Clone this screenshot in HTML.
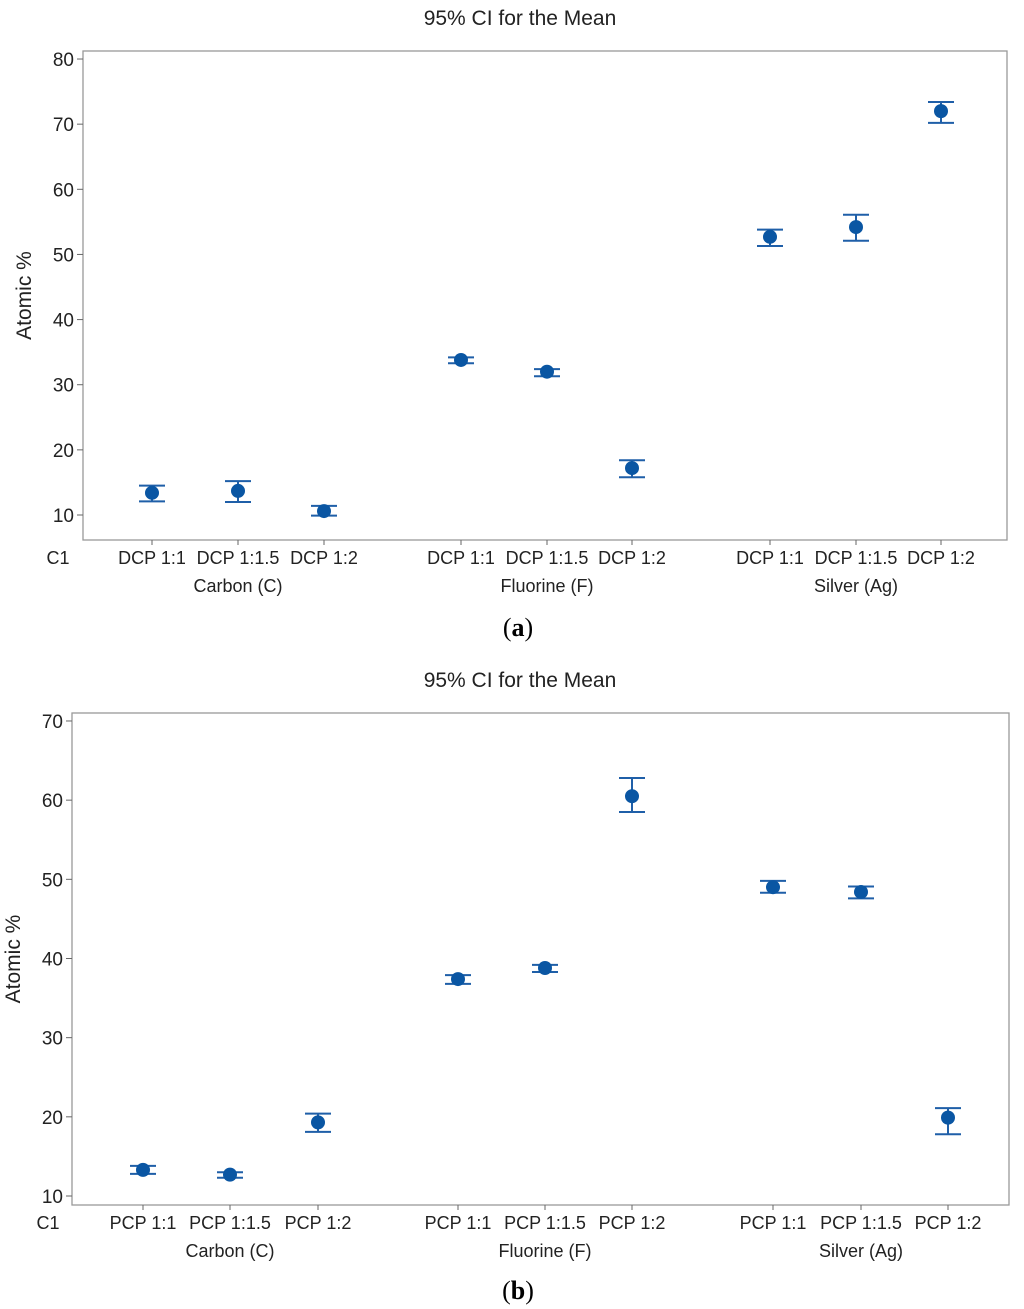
<!DOCTYPE html>
<html><head><meta charset="utf-8"><style>
body{margin:0;background:#fff;}
svg{display:block;font-family:"Liberation Sans",sans-serif;}
</style></head><body>
<svg id="svg" width="1024" height="1309"></svg>
<script>
const catsA=["DCP 1:1","DCP 1:1.5","DCP 1:2","DCP 1:1","DCP 1:1.5","DCP 1:2","DCP 1:1","DCP 1:1.5","DCP 1:2"];
const catsB=["PCP 1:1","PCP 1:1.5","PCP 1:2","PCP 1:1","PCP 1:1.5","PCP 1:2","PCP 1:1","PCP 1:1.5","PCP 1:2"];
const groups=["Carbon (C)","Fluorine (F)","Silver (Ag)"];
const meanA=[13.4,13.7,10.6,33.8,32.0,17.2,52.7,54.2,72.0];
const hiA=[14.5,15.2,11.4,34.2,32.4,18.4,53.8,56.1,73.4];
const loA=[12.1,12.0,9.9,33.3,31.3,15.8,51.3,52.1,70.2];
const meanB=[13.3,12.7,19.3,37.4,38.8,60.5,49.0,48.4,19.9];
const hiB=[13.8,13.0,20.4,37.9,39.2,62.8,49.8,49.1,21.1];
const loB=[12.8,12.3,18.1,36.8,38.3,58.5,48.3,47.6,17.8];
const ticksA=[10,20,30,40,50,60,70,80];
const ticksB=[10,20,30,40,50,60,70];
const NS="http://www.w3.org/2000/svg";
const svg=document.getElementById("svg");
function mk(t,a,txt,p){const e=document.createElementNS(NS,t);for(const k in a)e.setAttribute(k,a[k]);if(txt!=null)e.textContent=txt;(p||svg).appendChild(e);return e;}
function panel(o){
 const g=mk("g",{});
 
 
 const y=v=>o.y0-(v-o.v0)*o.s;
 const t=mk("text",{x:520,y:o.ty,"text-anchor":"middle","font-size":21,fill:"#222"},"95% CI for the Mean",g);
 
 const f=mk("rect",{x:o.L,y:o.T,width:o.R-o.L,height:o.B-o.T,fill:"none",stroke:"#999","stroke-width":1.3},null,g);
 
 o.ticks.forEach(v=>{
  mk("line",{x1:o.L-6,x2:o.L,y1:y(v),y2:y(v),stroke:"#666"},null,g);
  const l=mk("text",{x:o.L-9,y:y(v)+7,"text-anchor":"end","font-size":19,fill:"#222"},v,g);
  
 });
 const yt=mk("text",{transform:`translate(${o.yl},${(o.T+o.B)/2}) rotate(-90)`,"text-anchor":"middle","font-size":21,fill:"#222"},"Atomic %",g);
 
 const c1=mk("text",{x:o.c1,y:o.B+24,"text-anchor":"middle","font-size":18,fill:"#222"},"C1",g);
 
 o.cats.forEach((c,i)=>{
  const x=o.xs[i];
  mk("line",{x1:x,x2:x,y1:o.B,y2:o.B+5,stroke:"#666"},null,g);
  const l=mk("text",{x:x,y:o.B+24,"text-anchor":"middle","font-size":18,fill:"#222"},c,g);
  
  const e=mk("path",{d:`M${x-13},${y(o.hi[i])}H${x+13}M${x},${y(o.hi[i])}V${y(o.lo[i])}M${x-13},${y(o.lo[i])}H${x+13}`,stroke:"#1f5fa8","stroke-width":2,fill:"none"},null,g);
  
  const p=mk("circle",{cx:x,cy:y(o.mean[i]),r:7,fill:"#0a56a3"},null,g);
  
 });
 groups.forEach((gname,j)=>{
  const l=mk("text",{x:o.xs[j*3+1],y:o.B+52,"text-anchor":"middle","font-size":18,fill:"#222"},gname,g);
  
 });
 const pl=mk("text",{x:518,y:o.pl,"text-anchor":"middle","font-size":26,"font-family":"Liberation Serif,serif",fill:"#000"},"",g);
 pl.innerHTML='(<tspan font-weight="bold">'+o.letter+'</tspan>)';
 
}
panel({name:"chart-a",L:83,R:1007,T:51,B:540,y0:515,v0:10,s:6.514,ticks:ticksA,cats:catsA,mean:meanA,hi:hiA,lo:loA,
 xs:[152,238,324,461,547,632,770,856,941],ty:25,yl:31,c1:58,pl:636,letter:"a"});
panel({name:"chart-b",L:72,R:1009,T:713,B:1205,y0:1196,v0:10,s:7.917,ticks:ticksB,cats:catsB,mean:meanB,hi:hiB,lo:loB,
 xs:[143,230,318,458,545,632,773,861,948],ty:687,yl:20,c1:48,pl:1299,letter:"b"});
</script>
</body></html>
